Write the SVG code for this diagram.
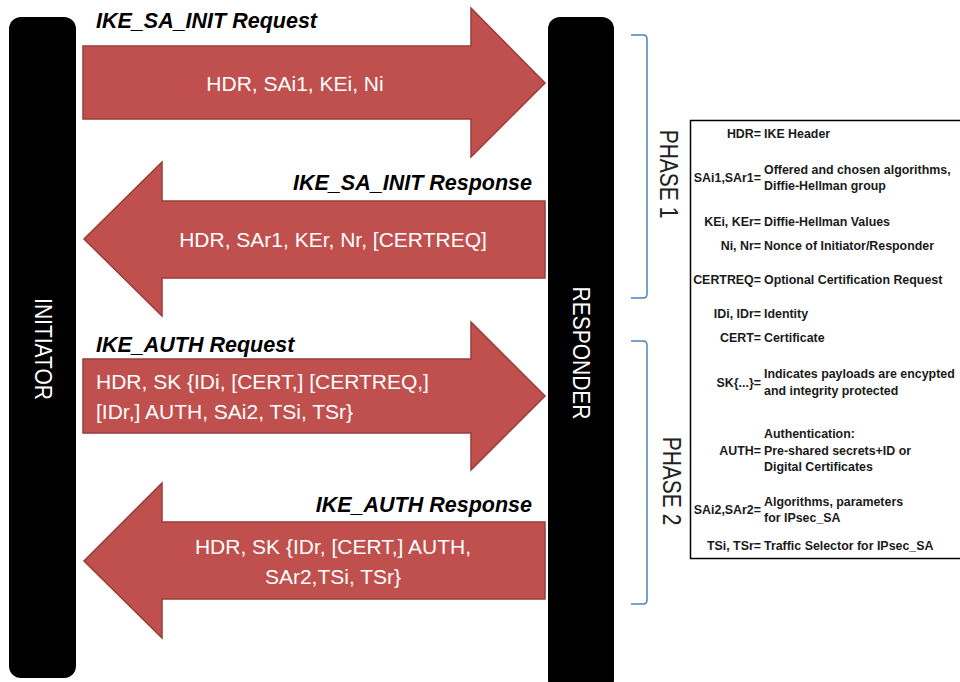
<svg xmlns="http://www.w3.org/2000/svg" width="960" height="682" viewBox="0 0 960 682">
<style>
.bar{fill:#000}
.arrow{fill:#C0504D;stroke:#9A3B38;stroke-width:1.5}
.msg{font-family:"Liberation Sans",Arial,sans-serif;font-size:21px;fill:#fff}
.lbl{font-family:"Liberation Sans",Arial,sans-serif;font-size:21.5px;font-weight:bold;font-style:italic;fill:#000}
.vert{font-family:"Liberation Sans",Arial,sans-serif;font-size:21px;fill:#fff}
.phase{font-family:"Liberation Sans",Arial,sans-serif;font-size:21px;fill:#222}
.brace{fill:none;stroke:#4F81BD;stroke-width:1.5}
.lg{font-family:"Liberation Sans",Arial,sans-serif;font-size:12.4px;font-weight:bold;fill:#1a1a1a}
.term{text-anchor:end}
</style>
<rect width="960" height="682" fill="#fff"/>
<g id="initiator">
<rect class="bar" x="9" y="17" width="67" height="661" rx="12"/>
<text class="vert" text-anchor="middle" transform="translate(35,349) rotate(90) scale(1,1.15)">INITIATOR</text>
</g>
<g id="responder">
<rect class="bar" x="548" y="17" width="66" height="675" rx="12"/>
<text class="vert" text-anchor="middle" transform="translate(573,353) rotate(90) scale(1,1.15)">RESPONDER</text>
</g>
<g id="connectors">
<g id="msg1">
<polygon class="arrow" points="83,46 471,46 471,8 545,83 471,157 471,119 83,119"/>
<text class="lbl" x="96" y="28">IKE_SA_INIT Request</text>
<text class="msg" x="295" y="91" text-anchor="middle">HDR, SAi1, KEi, Ni</text>
</g>
<g id="msg2">
<polygon class="arrow" points="545,201 162,201 162,162 84,239 162,316 162,278 545,278"/>
<text class="lbl" x="532" y="190" text-anchor="end">IKE_SA_INIT Response</text>
<text class="msg" x="333" y="247" text-anchor="middle">HDR, SAr1, KEr, Nr, [CERTREQ]</text>
</g>
<g id="msg3">
<polygon class="arrow" points="83,359 471,359 471,322 545,396 471,470 471,433 83,433"/>
<text class="lbl" x="96" y="352">IKE_AUTH Request</text>
<text class="msg" x="96" y="389">HDR, SK {IDi, [CERT,] [CERTREQ,]</text>
<text class="msg" x="96" y="419">[IDr,] AUTH, SAi2, TSi, TSr}</text>
</g>
<g id="msg4">
<polygon class="arrow" points="545,522 162,522 162,483 84,561 162,638 162,599 545,599"/>
<text class="lbl" x="532" y="512" text-anchor="end">IKE_AUTH Response</text>
<text class="msg" x="333" y="554" text-anchor="middle">HDR, SK {IDr, [CERT,] AUTH,</text>
<text class="msg" x="333" y="584" text-anchor="middle">SAr2,TSi, TSr}</text>
</g>
</g>
<g id="phase1">
<path class="brace" d="M631,35 H643 Q647,35 647,39 V294 Q647,298 643,298 H631"/>
<text class="phase" text-anchor="middle" transform="translate(660,174) rotate(90) scale(1,1.2)">PHASE 1</text>
</g>
<g id="phase2">
<path class="brace" d="M631,341 H643 Q647,341 647,345 V600 Q647,604 643,604 H631"/>
<text class="phase" text-anchor="middle" transform="translate(663,481) rotate(90) scale(1,1.2)">PHASE 2</text>
</g>
<g id="legend">
<rect x="690.5" y="120.5" width="300" height="438" fill="#fff" stroke="#000" stroke-width="1.5"/>
<text class="lg term" x="761" y="138">HDR=</text><text class="lg" x="764" y="138">IKE Header</text>
<text class="lg term" x="761" y="182">SAi1,SAr1=</text><text class="lg" x="764" y="174">Offered and chosen algorithms,</text><text class="lg" x="764" y="190">Diffie-Hellman group</text>
<text class="lg term" x="761" y="226">KEi, KEr=</text><text class="lg" x="764" y="226">Diffie-Hellman Values</text>
<text class="lg term" x="761" y="250">Ni, Nr=</text><text class="lg" x="764" y="250">Nonce of Initiator/Responder</text>
<text class="lg term" x="761" y="284">CERTREQ=</text><text class="lg" x="764" y="284">Optional Certification Request</text>
<text class="lg term" x="761" y="318">IDi, IDr=</text><text class="lg" x="764" y="318">Identity</text>
<text class="lg term" x="761" y="342">CERT=</text><text class="lg" x="764" y="342">Certificate</text>
<text class="lg term" x="761" y="387">SK{...}=</text><text class="lg" x="764" y="378">Indicates payloads are encypted</text><text class="lg" x="764" y="395">and integrity protected</text>
<text class="lg" x="764" y="438">Authentication:</text>
<text class="lg term" x="761" y="455">AUTH=</text><text class="lg" x="764" y="455">Pre-shared secrets+ID or</text>
<text class="lg" x="764" y="471">Digital Certificates</text>
<text class="lg term" x="761" y="514">SAi2,SAr2=</text><text class="lg" x="764" y="506">Algorithms, parameters</text><text class="lg" x="764" y="522">for IPsec_SA</text>
<text class="lg term" x="761" y="550">TSi, TSr=</text><text class="lg" x="764" y="550">Traffic Selector for IPsec_SA</text>
</g>
</svg>
